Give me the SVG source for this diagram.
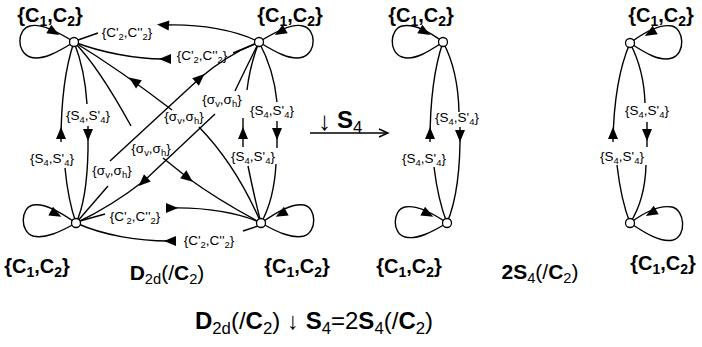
<svg xmlns="http://www.w3.org/2000/svg" xmlns:xlink="http://www.w3.org/1999/xlink" width="702" height="347" viewBox="0 0 702 347">
<style>
.e{fill:none;stroke:#000;stroke-width:1.4}
.n{fill:#fff;stroke:#000;stroke-width:1.3}
.lb{font-family:"Liberation Sans",Arial,sans-serif;font-size:13.5px;text-anchor:middle;fill:#000}
.big{font-family:"Liberation Sans",Arial,sans-serif;font-size:20px;font-weight:bold;text-anchor:middle;fill:#000}
.sb{font-size:0.7em}
.rg{font-weight:normal}
</style>
<defs>
<path id="ah" d="M6,0 L-6,-5 L-6,5 Z"/>
</defs>
<rect width="702" height="347" fill="#fff"/>

<!-- connectors -->
<g id="connectors">
  <!-- main graph: top C' edges -->
  <path class="e" d="M78,40 L98,33"/>
  <path class="e" d="M166,25 C200,24 236,30 259,42"/>
  <use xlink:href="#ah" transform="translate(163,25) rotate(184)"/>
  <path class="e" d="M74,42 C100,52 135,59 163,59"/>
  <use xlink:href="#ah" transform="translate(165,59) rotate(180)"/>
  <path class="e" d="M233,53 L255,44"/>
  <!-- bottom C' edges -->
  <path class="e" d="M80,221 L105,214"/>
  <path class="e" d="M170,208 C205,207 240,213 261,223"/>
  <use xlink:href="#ah" transform="translate(172,208) rotate(0)"/>
  <path class="e" d="M76,223 C105,236 140,241 168,241"/>
  <use xlink:href="#ah" transform="translate(170,241) rotate(180)"/>
  <path class="e" d="M243,231 L258,226"/>
  <!-- left S edges -->
  <path class="e" d="M74,42 Q61,80 61,142"/>
  <use xlink:href="#ah" transform="translate(61,133) rotate(-90)"/>
  <path class="e" d="M65,168 Q68,200 76,223"/>
  <path class="e" d="M74,42 Q85,70 87,104"/>
  <path class="e" d="M88,126 L88,150 Q87,200 76,223"/>
  <use xlink:href="#ah" transform="translate(88,135) rotate(90)"/>
  <!-- right S edges -->
  <path class="e" d="M259,42 Q250,65 247,90"/>
  <path class="e" d="M243,118 L243,147"/>
  <use xlink:href="#ah" transform="translate(243,133) rotate(-90)"/>
  <path class="e" d="M248,166 Q255,200 261,223"/>
  <path class="e" d="M259,42 Q274,70 277,102"/>
  <path class="e" d="M277,121 L277,148"/>
  <use xlink:href="#ah" transform="translate(277,134) rotate(90)"/>
  <path class="e" d="M276,164 Q274,200 261,223"/>
  <!-- sigma edges -->
  <path class="e" d="M74,42 Q120,70 172,110"/>
  <use xlink:href="#ah" transform="translate(134,81) rotate(-145)"/>
  <path class="e" d="M199,127 Q236,165 261,223"/>
  <path class="e" d="M74,42 Q98,66 131,126"/>
  <path class="e" d="M163,158 L188,178 Q218,200 261,223"/>
  <use xlink:href="#ah" transform="translate(188,178) rotate(38)"/>
  <path class="e" d="M76,223 L108,186"/>
  <path class="e" d="M110,161 L200,78 Q228,54 259,42"/>
  <use xlink:href="#ah" transform="translate(200,78) rotate(-42)"/>
  <path class="e" d="M259,42 Q245,70 235,91"/>
  <path class="e" d="M215,114 L145,180 Q112,206 76,223"/>
  <use xlink:href="#ah" transform="translate(143,182) rotate(137)"/>
  <!-- loops main -->
  <path class="e" d="M74,42 C55,30 40,23 30,26 C17,29 16,52 30,57 C42,61 58,52 74,42"/>
  <use xlink:href="#ah" transform="translate(54,32) rotate(30)"/>
  <path class="e" d="M259,42 C278,30 293,23 303,26 C316,29 317,52 303,57 C291,61 275,52 259,42"/>
  <use xlink:href="#ah" transform="translate(280,32) rotate(150)"/>
  <path class="e" d="M76,223 C60,212 45,203 33,205 C20,208 20,232 33,236 C45,239 60,232 76,223"/>
  <use xlink:href="#ah" transform="translate(56,214) rotate(28)"/>
  <path class="e" d="M261,223 C277,212 292,203 304,205 C317,208 317,232 304,236 C292,239 277,232 261,223"/>
  <use xlink:href="#ah" transform="translate(281,214) rotate(152)"/>

  <!-- reduction arrow -->
  <path class="e" d="M310,133 L388,133"/>
  <path class="e" d="M379,129 L388,133 L379,137"/>

  <!-- middle graph -->
  <path class="e" d="M443,42 C427,30 412,24 402,26 C390,29 388,52 402,57 C414,61 428,52 443,42"/>
  <use xlink:href="#ah" transform="translate(425,32) rotate(30)"/>
  <path class="e" d="M447,223 C431,212 416,205 405,207 C392,210 392,234 405,237 C417,240 432,232 447,223"/>
  <use xlink:href="#ah" transform="translate(428,214) rotate(28)"/>
  <path class="e" d="M443,42 Q430,80 430,142"/>
  <use xlink:href="#ah" transform="translate(430,133) rotate(-90)"/>
  <path class="e" d="M434,167 Q438,200 447,223"/>
  <path class="e" d="M443,42 Q458,70 459,112"/>
  <path class="e" d="M460,127 Q461,190 447,223"/>
  <use xlink:href="#ah" transform="translate(460,136) rotate(90)"/>

  <!-- right graph -->
  <path class="e" d="M630,43 C646,31 661,24 672,26 C684,29 686,53 672,58 C660,62 645,53 630,43"/>
  <use xlink:href="#ah" transform="translate(650,33) rotate(150)"/>
  <path class="e" d="M630,223 C646,211 661,205 672,207 C685,210 687,236 673,240 C661,243 645,233 630,223"/>
  <use xlink:href="#ah" transform="translate(651,213) rotate(150)"/>
  <path class="e" d="M630,43 Q614,80 613,142"/>
  <use xlink:href="#ah" transform="translate(613,133) rotate(-90)"/>
  <path class="e" d="M617,165 Q621,200 630,223"/>
  <path class="e" d="M630,43 Q644,70 645,103"/>
  <path class="e" d="M647,122 L647,147"/>
  <use xlink:href="#ah" transform="translate(647,135) rotate(90)"/>
  <path class="e" d="M646,165 Q645,200 630,223"/>
</g>

<!-- edge labels -->
<g id="edge-labels">
  <text class="lb" x="127" y="37">{C'<tspan class="sb" dy="3">2</tspan><tspan dy="-3">,C''</tspan><tspan class="sb" dy="3">2</tspan><tspan dy="-3">}</tspan></text>
  <text class="lb" x="202" y="60">{C'<tspan class="sb" dy="3">2</tspan><tspan dy="-3">,C''</tspan><tspan class="sb" dy="3">2</tspan><tspan dy="-3">}</tspan></text>
  <text class="lb" x="135" y="221">{C'<tspan class="sb" dy="3">2</tspan><tspan dy="-3">,C''</tspan><tspan class="sb" dy="3">2</tspan><tspan dy="-3">}</tspan></text>
  <text class="lb" x="209" y="245">{C'<tspan class="sb" dy="3">2</tspan><tspan dy="-3">,C''</tspan><tspan class="sb" dy="3">2</tspan><tspan dy="-3">}</tspan></text>
  <text class="lb" x="52" y="163">{S<tspan class="sb" dy="3">4</tspan><tspan dy="-3">,S'</tspan><tspan class="sb" dy="3">4</tspan><tspan dy="-3">}</tspan></text>
  <text class="lb" x="88" y="120">{S<tspan class="sb" dy="3">4</tspan><tspan dy="-3">,S'</tspan><tspan class="sb" dy="3">4</tspan><tspan dy="-3">}</tspan></text>
  <text class="lb" x="253" y="161">{S<tspan class="sb" dy="3">4</tspan><tspan dy="-3">,S'</tspan><tspan class="sb" dy="3">4</tspan><tspan dy="-3">}</tspan></text>
  <text class="lb" x="272" y="115">{S<tspan class="sb" dy="3">4</tspan><tspan dy="-3">,S'</tspan><tspan class="sb" dy="3">4</tspan><tspan dy="-3">}</tspan></text>
  <text class="lb" x="184" y="121">{σ<tspan class="sb" dy="3">v</tspan><tspan dy="-3">,σ</tspan><tspan class="sb" dy="3">h</tspan><tspan dy="-3">}</tspan></text>
  <text class="lb" x="151" y="153">{σ<tspan class="sb" dy="3">v</tspan><tspan dy="-3">,σ</tspan><tspan class="sb" dy="3">h</tspan><tspan dy="-3">}</tspan></text>
  <text class="lb" x="112" y="175">{σ<tspan class="sb" dy="3">v</tspan><tspan dy="-3">,σ</tspan><tspan class="sb" dy="3">h</tspan><tspan dy="-3">}</tspan></text>
  <text class="lb" x="222" y="104">{σ<tspan class="sb" dy="3">v</tspan><tspan dy="-3">,σ</tspan><tspan class="sb" dy="3">h</tspan><tspan dy="-3">}</tspan></text>
  <text class="lb" x="424" y="163">{S<tspan class="sb" dy="3">4</tspan><tspan dy="-3">,S'</tspan><tspan class="sb" dy="3">4</tspan><tspan dy="-3">}</tspan></text>
  <text class="lb" x="457" y="122">{S<tspan class="sb" dy="3">4</tspan><tspan dy="-3">,S'</tspan><tspan class="sb" dy="3">4</tspan><tspan dy="-3">}</tspan></text>
  <text class="lb" x="622" y="161">{S<tspan class="sb" dy="3">4</tspan><tspan dy="-3">,S'</tspan><tspan class="sb" dy="3">4</tspan><tspan dy="-3">}</tspan></text>
  <text class="lb" x="647" y="115">{S<tspan class="sb" dy="3">4</tspan><tspan dy="-3">,S'</tspan><tspan class="sb" dy="3">4</tspan><tspan dy="-3">}</tspan></text>
</g>

<!-- nodes -->
<g id="node-tl"><circle class="n" cx="74" cy="42" r="4.5"/><text class="big" x="50" y="22">{C<tspan class="sb" dy="4">1</tspan><tspan dy="-4">,C</tspan><tspan class="sb" dy="4">2</tspan><tspan dy="-4">}</tspan></text></g>
<g id="node-tr"><circle class="n" cx="259" cy="42" r="4.5"/><text class="big" x="290" y="22">{C<tspan class="sb" dy="4">1</tspan><tspan dy="-4">,C</tspan><tspan class="sb" dy="4">2</tspan><tspan dy="-4">}</tspan></text></g>
<g id="node-bl"><circle class="n" cx="76" cy="223" r="4.5"/><text class="big" x="37" y="273">{C<tspan class="sb" dy="4">1</tspan><tspan dy="-4">,C</tspan><tspan class="sb" dy="4">2</tspan><tspan dy="-4">}</tspan></text></g>
<g id="node-br"><circle class="n" cx="261" cy="223" r="4.5"/><text class="big" x="297" y="273">{C<tspan class="sb" dy="4">1</tspan><tspan dy="-4">,C</tspan><tspan class="sb" dy="4">2</tspan><tspan dy="-4">}</tspan></text></g>
<g id="node-mt"><circle class="n" cx="443" cy="42" r="4.5"/><text class="big" x="421" y="22">{C<tspan class="sb" dy="4">1</tspan><tspan dy="-4">,C</tspan><tspan class="sb" dy="4">2</tspan><tspan dy="-4">}</tspan></text></g>
<g id="node-mb"><circle class="n" cx="447" cy="223" r="4.5"/><text class="big" x="409" y="273">{C<tspan class="sb" dy="4">1</tspan><tspan dy="-4">,C</tspan><tspan class="sb" dy="4">2</tspan><tspan dy="-4">}</tspan></text></g>
<g id="node-rt"><circle class="n" cx="630" cy="43" r="4.5"/><text class="big" x="661" y="22">{C<tspan class="sb" dy="4">1</tspan><tspan dy="-4">,C</tspan><tspan class="sb" dy="4">2</tspan><tspan dy="-4">}</tspan></text></g>
<g id="node-rb"><circle class="n" cx="630" cy="223" r="4.5"/><text class="big" x="663" y="270">{C<tspan class="sb" dy="4">1</tspan><tspan dy="-4">,C</tspan><tspan class="sb" dy="4">2</tspan><tspan dy="-4">}</tspan></text></g>

<!-- titles -->
<g id="titles">
  <text class="big" x="167" y="280" style="font-size:21px">D<tspan class="sb rg" dy="4">2d</tspan><tspan class="rg" dy="-4">(/</tspan>C<tspan class="sb rg" dy="4">2</tspan><tspan class="rg" dy="-4">)</tspan></text>
  <text class="big" x="540" y="279" style="font-size:21px">2S<tspan class="sb rg" dy="4">4</tspan><tspan class="rg" dy="-4">(/</tspan>C<tspan class="sb rg" dy="4">2</tspan><tspan class="rg" dy="-4">)</tspan></text>
  <text class="big" x="314" y="329" style="font-size:24px">D<tspan class="sb rg" dy="5">2d</tspan><tspan class="rg" dy="-5">(/</tspan>C<tspan class="sb rg" dy="5">2</tspan><tspan class="rg" dy="-5">) ↓ </tspan>S<tspan class="sb rg" dy="5">4</tspan><tspan class="rg" dy="-5">=2</tspan>S<tspan class="sb rg" dy="5">4</tspan><tspan class="rg" dy="-5">(/</tspan>C<tspan class="sb rg" dy="5">2</tspan><tspan class="rg" dy="-5">)</tspan></text>
  <text class="big" x="318" y="130" style="text-anchor:start;font-weight:normal;font-size:26px">↓</text>
  <text class="big" x="337" y="128" style="text-anchor:start;font-size:24px">S<tspan class="sb rg" dy="5">4</tspan></text>
</g>
</svg>
